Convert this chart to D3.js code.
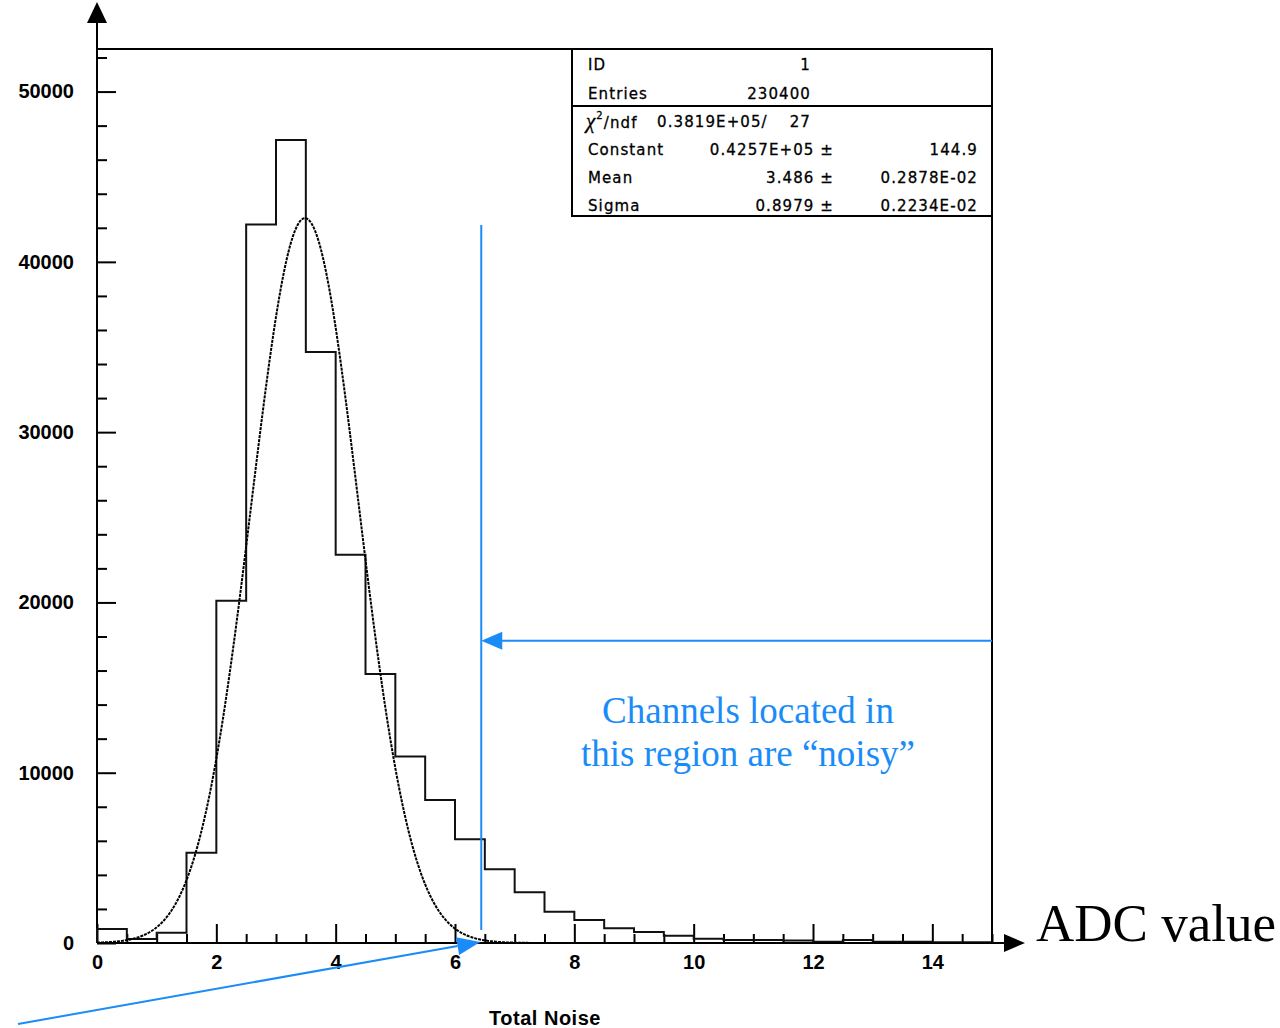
<!DOCTYPE html>
<html>
<head>
<meta charset="utf-8">
<script src="https://cdn.jsdelivr.net/npm/d3@7/dist/d3.min.js"></script>
<style>
  body { margin: 0; background: #fff; }
  svg { display: block; }
</style>
</head>
<body>
<svg id="chart" width="1280" height="1028"></svg>
<script>
// histogram: 30 bins of 0.5 from 0 to 15 (Total Noise)
const binWidth = 0.5;
const counts = [820, 240, 600, 5300, 20100, 42200, 47150, 34700, 22800, 15800,
  10950, 8400, 6100, 4330, 2980, 1840, 1350, 860, 650, 430,
  250, 180, 180, 140, 70, 180, 80, 80, 40, 40];

// fit result shown in the stats box
const fitConstant = 42570;
const fitMean = 3.486;
const fitSigma = 0.8979;

const statsTop = [['ID', '1'], ['Entries', '230400']];
const statsFit = [
  ['Constant', '0.4257E+05 \u00b1', '144.9'],
  ['Mean', '3.486 \u00b1', '0.2878E-02'],
  ['Sigma', '0.8979 \u00b1', '0.2234E-02'],
];

const xMajor = [0, 2, 4, 6, 8, 10, 12, 14];
const yMajor = [0, 10000, 20000, 30000, 40000, 50000];

// annotation, in data units
const noisyCut = 6.44;
const arrowLevel = 17750;

const blue = '#1a8cf8';
const svg = d3.select('#chart');

const x = d3.scaleLinear().domain([0, 15]).range([97, 992]);
const y = d3.scaleLinear().domain([0, 52500]).range([943, 49]);

const xMinor = d3.range(0, 15.01, 0.5).filter(v => xMajor.indexOf(v) === -1);
const yMinor = d3.range(0, 52001, 2000).filter(v => yMajor.indexOf(v) === -1);

const tickFont = (sel) => {
  sel.selectAll('text')
    .attr('font-family', 'Liberation Sans, Arial, sans-serif')
    .attr('font-weight', 'bold')
    .attr('font-size', '20px')
    .attr('fill', '#000');
  sel.selectAll('line').attr('stroke', '#000').attr('stroke-width', 2);
  sel.select('.domain').remove();
};

// y axis (ticks inside)
svg.append('g')
  .attr('transform', `translate(${x(0)},0)`)
  .call(d3.axisLeft(y).tickValues(yMajor).tickSize(-19).tickPadding(23).tickFormat(d3.format('d')))
  .call(tickFont);
svg.append('g')
  .attr('transform', `translate(${x(0)},0)`)
  .call(d3.axisLeft(y).tickValues(yMinor).tickSize(-10).tickFormat(''))
  .call(tickFont);

// x axis (ticks inside)
svg.append('g')
  .attr('transform', `translate(0,${y(0)})`)
  .call(d3.axisBottom(x).tickValues(xMajor).tickSize(-19).tickPadding(12).tickFormat(d3.format('d')))
  .call(tickFont);
svg.append('g')
  .attr('transform', `translate(0,${y(0)})`)
  .call(d3.axisBottom(x).tickValues(xMinor).tickSize(-9).tickFormat(''))
  .call(tickFont);

// frame
svg.append('path')
  .attr('d', `M${x(0)},${y(0)}V${y.range()[1]}H${x(15)}V${y(0)}`)
  .attr('fill', 'none').attr('stroke', '#000').attr('stroke-width', 2);

// axis lines with arrows
svg.append('line')
  .attr('x1', x(0)).attr('y1', y(0)).attr('x2', x(0)).attr('y2', 20)
  .attr('stroke', '#000').attr('stroke-width', 2);
svg.append('path')
  .attr('d', `M${x(0)},2L${x(0) + 10},23L${x(0) - 10},23Z`)
  .attr('fill', '#000');
svg.append('line')
  .attr('x1', x(0)).attr('y1', y(0)).attr('x2', 1006).attr('y2', y(0))
  .attr('stroke', '#000').attr('stroke-width', 2);
svg.append('path')
  .attr('d', `M1025,${y(0)}L1004,${y(0) - 9}L1004,${y(0) + 9}Z`)
  .attr('fill', '#000');

// histogram outline
let hd = `M${x(0)},${y(0)}`;
counts.forEach((c, i) => {
  hd += `V${y(c)}H${x((i + 1) * binWidth)}`;
});
hd += `V${y(0)}`;
svg.append('path')
  .attr('d', hd)
  .attr('fill', 'none')
  .attr('stroke', '#111')
  .attr('stroke-width', 2);

// gaussian fit
const gauss = v => fitConstant * Math.exp(-0.5 * ((v - fitMean) / fitSigma) ** 2);
const fitPts = d3.range(0, 15.001, 0.02).map(v => [v, gauss(v)]);
svg.append('path')
  .datum(fitPts)
  .attr('d', d3.line().x(d => x(d[0])).y(d => y(d[1])))
  .attr('fill', 'none')
  .attr('stroke', '#000')
  .attr('stroke-width', 2)
  .attr('stroke-dasharray', '3,1');

// stats box
const box = svg.append('g')
  .attr('font-family', 'DejaVu Sans, sans-serif')
  .attr('font-size', '15px')
  .attr('letter-spacing', '1.1px')
  .attr('stroke', '#000')
  .attr('stroke-width', 0.3)
  .attr('fill', '#000');
box.append('rect')
  .attr('x', 572).attr('y', 49).attr('width', 420).attr('height', 167)
  .attr('fill', '#fff').attr('stroke', '#000').attr('stroke-width', 2);
box.append('line')
  .attr('x1', 572).attr('x2', 992).attr('y1', 106).attr('y2', 106)
  .attr('stroke', '#000').attr('stroke-width', 2);
statsTop.forEach((r, i) => {
  const by = 70 + i * 29;
  box.append('text').attr('x', 588).attr('y', by).text(r[0]);
  box.append('text').attr('x', 811).attr('y', by).attr('text-anchor', 'end').text(r[1]);
});
const chi = box.append('text').attr('x', 586).attr('y', 128);
chi.append('tspan').attr('font-family', 'Liberation Serif, serif').attr('font-style', 'italic').attr('font-size', '21px').text('\u03c7');
chi.append('tspan').attr('dy', -9).attr('font-size', '10px').text('2');
chi.append('tspan').attr('dy', 9).text('/ndf');
box.append('text').attr('x', 657).attr('y', 127).text('0.3819E+05/');
box.append('text').attr('x', 811).attr('y', 127).attr('text-anchor', 'end').text('27');
statsFit.forEach((r, i) => {
  const by = 155 + i * 28;
  box.append('text').attr('x', 588).attr('y', by).text(r[0]);
  box.append('text').attr('x', 834).attr('y', by).attr('text-anchor', 'end').text(r[1]);
  box.append('text').attr('x', 978).attr('y', by).attr('text-anchor', 'end').text(r[2]);
});

// blue annotations
svg.append('line')
  .attr('x1', x(noisyCut)).attr('x2', x(noisyCut))
  .attr('y1', 225).attr('y2', 930)
  .attr('stroke', blue).attr('stroke-width', 2);
svg.append('line')
  .attr('x1', x(15)).attr('x2', x(noisyCut) + 18)
  .attr('y1', y(arrowLevel)).attr('y2', y(arrowLevel))
  .attr('stroke', blue).attr('stroke-width', 2);
svg.append('path')
  .attr('d', `M${x(noisyCut)},${y(arrowLevel)}l21,-9v18z`)
  .attr('fill', blue);

// diagonal arrow from bottom-left to the cut
const tip = [x(noisyCut) - 1, y(0) - 1];
const tail = [18, 1024];
const ang = Math.atan2(tip[1] - tail[1], tip[0] - tail[0]);
const headLen = 23;
const headW = 9;
const base = [tip[0] - headLen * Math.cos(ang), tip[1] - headLen * Math.sin(ang)];
svg.append('line')
  .attr('x1', tail[0]).attr('y1', tail[1]).attr('x2', base[0]).attr('y2', base[1])
  .attr('stroke', blue).attr('stroke-width', 2);
svg.append('path')
  .attr('d', `M${tip[0]},${tip[1]}`
    + `L${base[0] - headW * Math.sin(ang)},${base[1] + headW * Math.cos(ang)}`
    + `L${base[0] + headW * Math.sin(ang)},${base[1] - headW * Math.cos(ang)}Z`)
  .attr('fill', blue);

const note = svg.append('text')
  .attr('font-family', 'Liberation Serif, Times New Roman, serif')
  .attr('font-size', '37px')
  .attr('fill', blue)
  .attr('text-anchor', 'middle');
note.append('tspan').attr('x', 748).attr('y', 723).text('Channels located in');
note.append('tspan').attr('x', 748).attr('y', 766).text('this region are \u201cnoisy\u201d');

svg.append('text')
  .attr('x', 1036).attr('y', 941)
  .attr('font-family', 'Liberation Serif, Times New Roman, serif')
  .attr('font-size', '53px')
  .attr('fill', '#000')
  .text('ADC value');

svg.append('text')
  .attr('x', 545).attr('y', 1025)
  .attr('text-anchor', 'middle')
  .attr('font-family', 'Liberation Sans, Arial, sans-serif')
  .attr('font-weight', 'bold')
  .attr('font-size', '20px')
  .attr('letter-spacing', '0.5px')
  .attr('fill', '#000')
  .text('Total Noise');
</script>
</body>
</html>
